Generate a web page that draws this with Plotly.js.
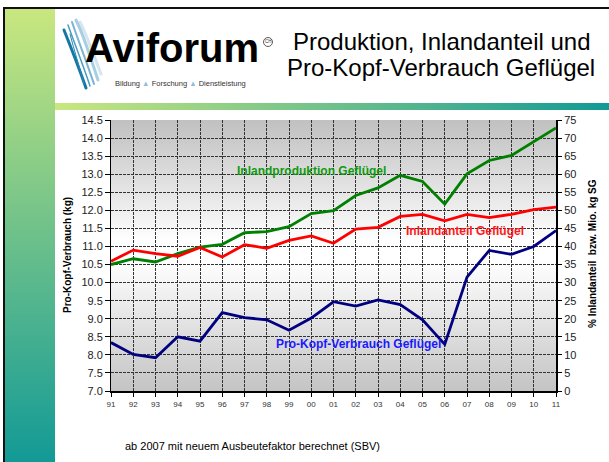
<!DOCTYPE html>
<html><head><meta charset="utf-8">
<script src="https://cdn.plot.ly/plotly-3.0.1.min.js"></script>
<style>
html,body{margin:0;padding:0;background:#fff;width:609px;height:462px;overflow:hidden;}
.d{position:absolute;}
#chart{position:absolute;left:0;top:0;width:609px;height:462px;}
</style></head><body>
<div class="d" style="left:3px;top:7px;width:640px;height:480px;border-top:2px solid #111;border-left:2px solid #111;"></div>
<div class="d" style="left:5px;top:9px;width:50px;height:453px;background:linear-gradient(to bottom,#c9e77f,#129a96);"></div>
<div class="d" style="left:55px;top:103px;width:554px;height:7px;background:linear-gradient(to right,#c9e77f,#129a96);"></div>
<div class="d" style="left:111px;top:120px;width:445px;height:271px;background:linear-gradient(to bottom,#c0c0c0 0%,#ffffff 45%,#ffffff 52%,#c4c4c4 100%);"></div>
<svg class="d" style="left:0;top:0" width="609" height="110">
  <g fill="none" stroke-linecap="round">
    <path d="M80,22 C88,38 94,56 101,74" stroke="#d4e6f0" stroke-width="3"/>
    <path d="M76,20 C84,36 90,56 98,80" stroke="#a9cee2" stroke-width="3"/>
    <path d="M72,22 C78,40 86,60 94,84" stroke="#7ab4d4" stroke-width="2"/>
    <path d="M68,25 C74,42 82,62 90,86" stroke="#4a9cc4" stroke-width="1.5"/>
    <path d="M64,30 C70,45 78,65 86,88" stroke="#1577a6" stroke-width="3"/>
    <path d="M70,34 C74,50 80,68 84,84" stroke="#2a88b4" stroke-width="1"/>
  </g>
  <circle cx="268" cy="42" r="4.5" fill="none" stroke="#333" stroke-width="0.8"/>
</svg>
<div id="chart"></div>
<script>
const years = ['91','92','93','94','95','96','97','98','99','00','01','02','03','04','05','06','07','08','09','10','11'];
// Pro-Kopf-Verbrauch Geflügel (kg) – left axis
const proKopf = [8.34,8.01,7.92,8.50,8.38,9.17,9.03,8.97,8.68,9.02,9.47,9.35,9.52,9.39,8.97,8.29,10.15,10.89,10.78,11.00,11.44];
// Inlandproduktion Geflügel (Mio. kg SG) – right axis
const produktion = [35.0,36.6,35.7,38.0,39.8,40.6,43.8,44.1,45.5,49.1,49.9,54.1,56.2,59.7,58.0,51.7,60.1,63.8,65.2,68.9,72.8];
// Inlandanteil Geflügel (%) – right axis
const inlandanteil = [35.9,39.0,38.0,37.3,39.7,37.1,40.5,39.5,41.7,42.9,40.9,44.8,45.3,48.3,48.9,47.1,48.9,48.0,48.9,50.2,50.9];

const titleLines = ['Produktion, Inlandanteil und','Pro-Kopf-Verbrauch Geflügel'];
const leftTitle = 'Pro-Kopf-Verbrauch (kg)';
const rightTitle = '% Inlandanteil\u00a0 bzw. Mio. kg SG';
const note = 'ab 2007 mit neuem Ausbeutefaktor berechnet (SBV)';

const L=111, T=120, W=445, H=271;
const px = x => (x-L)/W;
const py = y => (T+H-y)/H;
const FONT = 'Liberation Sans, Arial, sans-serif';

const traces = [
  {x:years, y:produktion, yaxis:'y2', type:'scatter', mode:'lines', line:{color:'#008000', width:2.8}, hoverinfo:'skip'},
  {x:years, y:inlandanteil, yaxis:'y2', type:'scatter', mode:'lines', line:{color:'#ff0000', width:2.8}, hoverinfo:'skip'},
  {x:years, y:proKopf, yaxis:'y', type:'scatter', mode:'lines', line:{color:'#000080', width:2.8}, hoverinfo:'skip'}
];

const ann = (text, x, y, o) => Object.assign({text, x:px(x), y:py(y), xref:'paper', yref:'paper', showarrow:false, xanchor:'center', yanchor:'middle'}, o||{});

const layout = {
  width:609, height:462,
  margin:{l:L, r:609-L-W, t:T, b:462-T-H, pad:0},
  paper_bgcolor:'rgba(0,0,0,0)', plot_bgcolor:'rgba(0,0,0,0)',
  font:{family:FONT, color:'#000'},
  showlegend:false,
  xaxis:{type:'category', range:[0,20], autorange:false, showline:true, linecolor:'#000', linewidth:2,
    ticks:'outside', ticklen:4, tickcolor:'#000', tickwidth:1, tickfont:{size:8, color:'#333'},
    showgrid:true, gridcolor:'#333', griddash:'3px,1px', gridwidth:1, zeroline:false, fixedrange:true},
  yaxis:{range:[7,14.5], autorange:false, dtick:0.5, tick0:7, tickformat:'.1f', showline:true, linecolor:'#000', linewidth:1,
    ticks:'outside', ticklen:5, tickcolor:'#000', tickwidth:1, tickfont:{size:11, color:'#222'},
    showgrid:true, gridcolor:'#333', griddash:'3px,1px', gridwidth:1, zeroline:false, fixedrange:true},
  yaxis2:{range:[0,75], autorange:false, dtick:5, tick0:0, overlaying:'y', side:'right', showline:true, linecolor:'#000', linewidth:2,
    ticks:'outside', ticklen:4, tickcolor:'#000', tickwidth:1, tickfont:{size:11, color:'#222'},
    showgrid:false, zeroline:false, fixedrange:true},
  annotations:[
    ann(titleLines[0], 442, 42, {font:{size:24, color:'#000', family:FONT}}),
    ann(titleLines[1], 441, 68, {font:{size:24, color:'#000', family:FONT}}),
    ann('Aviforum', 172, 48, {font:{size:40, color:'#000', family:FONT, weight:'bold'}}),
    ann('CH', 268, 42, {font:{size:4.5, color:'#333', family:FONT}}),
    ann('Bildung <span style="color:#8fc0d8">▲</span> Forschung <span style="color:#8fc0d8">▲</span> Dienstleistung', 180, 83, {font:{size:7.5, color:'#333', family:FONT}}),
    ann(leftTitle, 67, 255, {textangle:-90, font:{size:10, color:'#000', family:FONT, weight:'bold'}}),
    ann(rightTitle, 592, 254, {textangle:-90, font:{size:10, color:'#000', family:FONT, weight:'bold'}}),
    ann('Inlandproduktion Geflügel', 311, 171, {font:{size:12, color:'#119911', family:FONT, weight:'bold'}}),
    ann('Inlandanteil Geflügel', 404, 231, {xanchor:'left', font:{size:12, color:'#ff1a1a', family:FONT, weight:'bold'}}),
    ann('Pro-Kopf-Verbrauch Geflügel', 274, 344, {xanchor:'left', font:{size:12, color:'#1a1aff', family:FONT, weight:'bold'}}),
    ann(note, 123, 446, {xanchor:'left', font:{size:11, color:'#000', family:FONT}})
  ]
};
Plotly.newPlot('chart', traces, layout, {staticPlot:true, displayModeBar:false});
</script>
</body></html>
